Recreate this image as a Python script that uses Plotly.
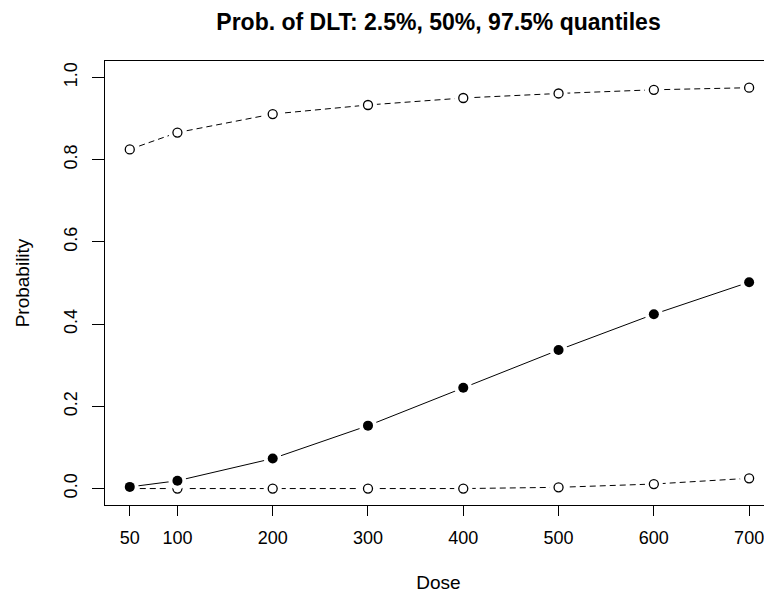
import plotly.graph_objects as go

dose = [50, 100, 200, 300, 400, 500, 600, 700]
q975 = [0.825, 0.866, 0.911, 0.933, 0.950, 0.961, 0.970, 0.975]
q50 = [0.004, 0.019, 0.073, 0.153, 0.245, 0.337, 0.424, 0.502]
q025 = [0.000, 0.000, 0.000, 0.000, 0.000, 0.003, 0.011, 0.025]
x_ticks = [50, 100, 200, 300, 400, 500, 600, 700]
y_ticks = [0.0, 0.2, 0.4, 0.6, 0.8, 1.0]
y_labels = ["0.0", "0.2", "0.4", "0.6", "0.8", "1.0"]

FONT = "Liberation Sans, Arial, Helvetica, sans-serif"

# page body has an 8px margin, so the figure is sized to fit the window
W, H = 764, 588

fig = go.Figure()

series = [
    (q975, "6px,4px", "open"),
    (q025, "6px,4px", "open"),
    (q50, "solid", "filled"),
]

for vals, dash, kind in series:
    fig.add_trace(go.Scatter(
        x=dose, y=vals, mode="lines",
        line=dict(color="black", width=1, dash=dash),
        hoverinfo="skip", showlegend=False,
    ))
    # white masks to emulate R type="b" gaps around points
    fig.add_trace(go.Scatter(
        x=dose, y=vals, mode="markers",
        marker=dict(size=18, color="white", line=dict(width=0)),
        hoverinfo="skip", showlegend=False,
    ))
    if kind == "open":
        fig.add_trace(go.Scatter(
            x=dose, y=vals, mode="markers",
            marker=dict(size=9, color="white", symbol="circle",
                        line=dict(color="black", width=1.3)),
            showlegend=False,
        ))
    else:
        fig.add_trace(go.Scatter(
            x=dose, y=vals, mode="markers",
            marker=dict(size=10, color="black", symbol="circle",
                        line=dict(color="black", width=0)),
            showlegend=False,
        ))

fig.update_layout(
    width=W, height=H,
    margin=dict(l=97, r=0, t=53, b=91, pad=0),
    paper_bgcolor="white", plot_bgcolor="white",
    font=dict(family=FONT, color="black", size=18),
    title=dict(
        text="Prob. of DLT: 2.5%, 50%, 97.5% quantiles",
        font=dict(family=FONT, size=23, weight="bold", color="black"),
        x=0.5, xref="paper", xanchor="center",
        y=1 - 14 / H, yref="container", yanchor="middle",
    ),
    xaxis=dict(
        range=[24, 724], showgrid=False, zeroline=False,
        showline=True, linecolor="black", linewidth=1, mirror=True,
        ticks="outside", ticklen=10, tickwidth=1, tickcolor="black",
        tickvals=x_ticks, ticktext=[str(v) for v in x_ticks],
        tickfont=dict(size=18), ticklabelstandoff=6,
        title=dict(text="Dose", font=dict(size=19), standoff=29),
    ),
    yaxis=dict(
        range=[-0.04, 1.04], showgrid=False, zeroline=False,
        showline=True, linecolor="black", linewidth=1, mirror=False,
        ticks="outside", ticklen=12, tickwidth=1, tickcolor="black",
        tickvals=y_ticks, ticktext=y_labels, tickangle=-90,
        tickfont=dict(size=18), ticklabelstandoff=8,
        title=dict(text="Probability", font=dict(size=19), standoff=26),
    ),
)

fig.write_html("out.html")
